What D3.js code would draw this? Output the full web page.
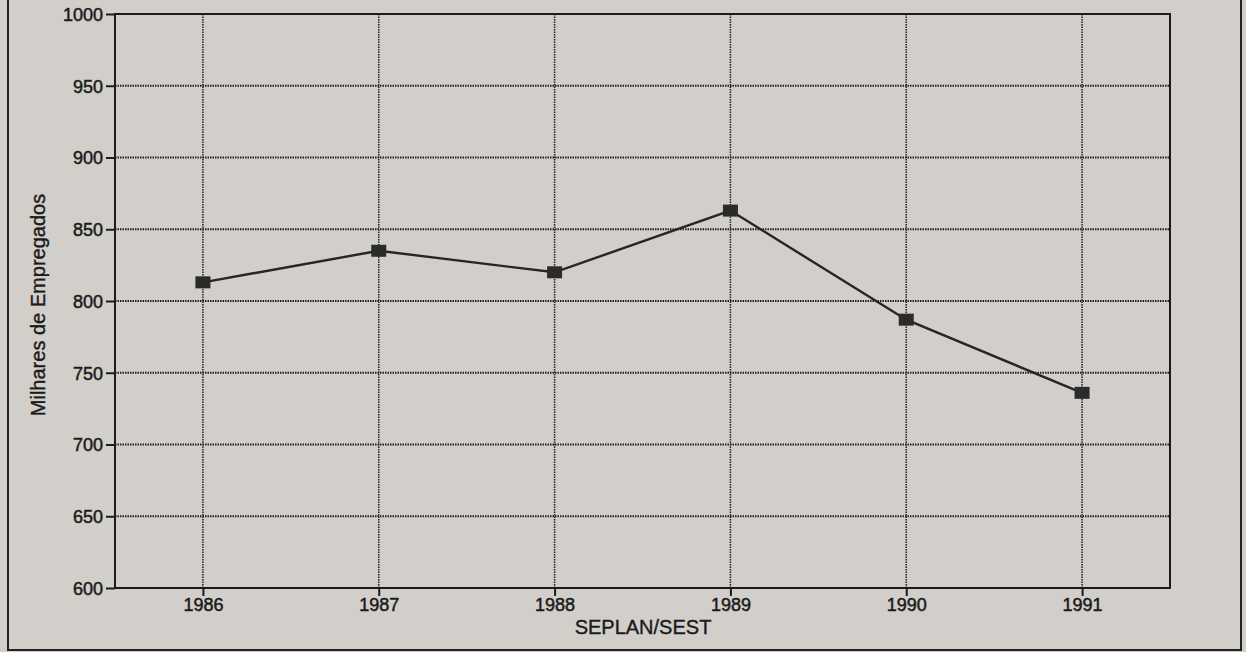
<!DOCTYPE html>
<html>
<head>
<meta charset="utf-8">
<script src="https://cdn.jsdelivr.net/npm/d3@7"></script>
<style>
  html, body { margin: 0; padding: 0; background: #d2cfcb; }
  svg { display: block; }
  text { font-family: "Liberation Sans", Arial, Helvetica, sans-serif; fill: #1b1b1b; }
</style>
</head>
<body>
<svg id="chart" width="1246" height="652"></svg>
<script>
'use strict';

var years = ['1986', '1987', '1988', '1989', '1990', '1991'];
var employees = [813, 835, 820, 863, 787, 736];
var yTicks = [600, 650, 700, 750, 800, 850, 900, 950, 1000];

var svg = d3.select('#chart');

var margin = {left: 115, top: 14, right: 76, bottom: 64},
    width = 1246 - margin.left - margin.right,
    height = 652 - margin.top - margin.bottom;

// page frame of the scan
svg.append('rect')
    .attr('x', 0).attr('y', 0)
    .attr('width', 1246).attr('height', 652)
    .attr('fill', '#d2cfcb');

svg.append('path')
    .attr('d', 'M8,0V650H1241V0')
    .attr('fill', 'none')
    .attr('stroke', '#222')
    .attr('stroke-width', 2);

var g = svg.append('g')
    .attr('transform', 'translate(' + margin.left + ',' + margin.top + ')');

var x = d3.scalePoint()
    .domain(years)
    .range([0, width])
    .padding(0.5);

var y = d3.scaleLinear()
    .domain([600, 1000])
    .range([height, 0]);

// grid
g.append('g')
    .selectAll('line.hgrid')
    .data(yTicks.slice(1, -1))
    .enter().append('line')
    .attr('x1', 0).attr('x2', width)
    .attr('y1', function(d) { return y(d); })
    .attr('y2', function(d) { return y(d); })
    .attr('stroke', '#222')
    .attr('stroke-width', 1.8)
    .attr('stroke-dasharray', '1.5,1');

g.append('g')
    .selectAll('line.vgrid')
    .data(years)
    .enter().append('line')
    .attr('y1', 0).attr('y2', height)
    .attr('x1', function(d) { return x(d); })
    .attr('x2', function(d) { return x(d); })
    .attr('stroke', '#222')
    .attr('stroke-width', 1.5)
    .attr('stroke-dasharray', '1.5,1');

// axes
var yAxis = d3.axisLeft(y)
    .tickValues(yTicks)
    .tickSize(9)
    .tickPadding(3)
    .tickFormat(d3.format('d'));

var xAxis = d3.axisBottom(x)
    .tickSize(8)
    .tickPadding(2);

var gy = g.append('g').call(yAxis);
var gx = g.append('g')
    .attr('transform', 'translate(0,' + height + ')')
    .call(xAxis);

[gy, gx].forEach(function(ax) {
    ax.select('.domain').remove();
    ax.selectAll('line').attr('stroke', '#1b1b1b').attr('stroke-width', 2);
    ax.selectAll('text')
        .attr('fill', '#1b1b1b')
        .attr('stroke', '#1b1b1b')
        .attr('stroke-width', 0.5)
        .style('font-size', '18px');
});
gy.selectAll('text').attr('dy', '0.36em');

// plot frame
g.append('rect')
    .attr('width', width)
    .attr('height', height)
    .attr('fill', 'none')
    .attr('stroke', '#1b1b1b')
    .attr('stroke-width', 2);

// series
var line = d3.line()
    .x(function(d, i) { return x(years[i]); })
    .y(function(d) { return y(d); });

g.append('path')
    .datum(employees)
    .attr('d', line)
    .attr('fill', 'none')
    .attr('stroke', '#262626')
    .attr('stroke-width', 2.4);

var mw = 15, mh = 12;
g.selectAll('rect.marker')
    .data(employees)
    .enter().append('rect')
    .attr('class', 'marker')
    .attr('x', function(d, i) { return x(years[i]) - mw / 2; })
    .attr('y', function(d) { return y(d) - mh / 2; })
    .attr('width', mw)
    .attr('height', mh)
    .attr('fill', '#2b2b2b');

// titles
svg.append('text')
    .attr('x', 643)
    .attr('y', 634)
    .attr('text-anchor', 'middle')
    .attr('stroke', '#1b1b1b')
    .attr('stroke-width', 0.4)
    .style('font-size', '20px')
    .text('SEPLAN/SEST');

svg.append('text')
    .attr('transform', 'translate(45,305) rotate(-90)')
    .attr('text-anchor', 'middle')
    .attr('stroke', '#1b1b1b')
    .attr('stroke-width', 0.4)
    .style('font-size', '20px')
    .text('Milhares de Empregados');
</script>
</body>
</html>
